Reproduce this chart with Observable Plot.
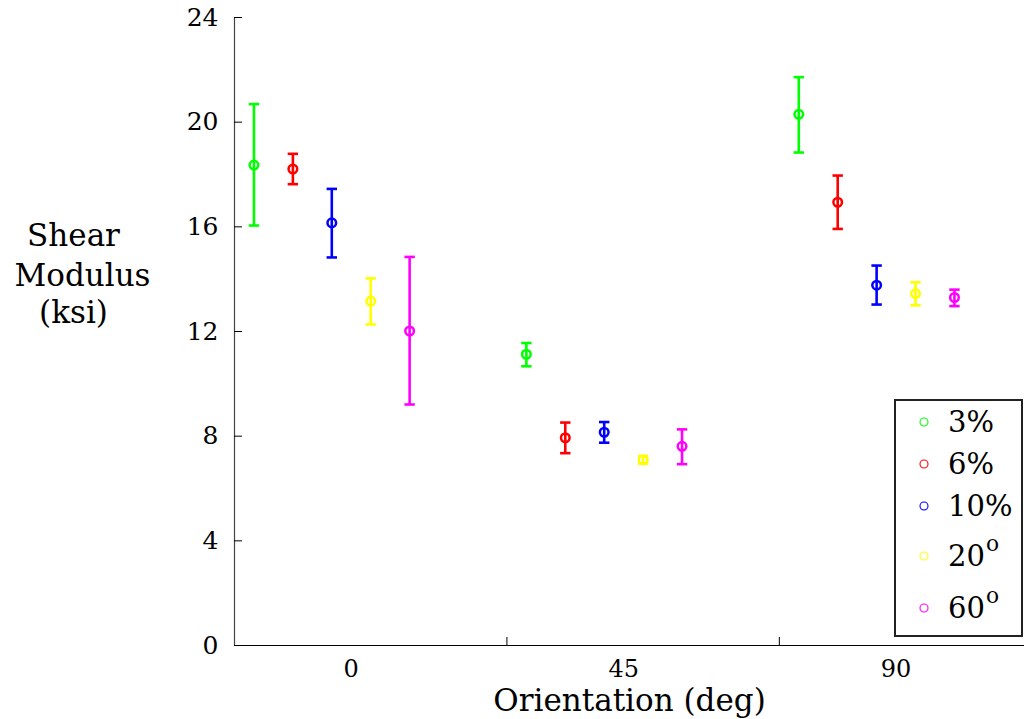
<!DOCTYPE html>
<html>
<head>
<meta charset="utf-8">
<script src="https://cdn.jsdelivr.net/npm/d3@7"></script>
<script src="https://cdn.jsdelivr.net/npm/@observablehq/plot@0.6"></script>
<style>
  html, body { margin: 0; padding: 0; background: #fff; }
  #wrap { position: relative; width: 1024px; height: 719px; overflow: hidden; }
  #legend {
    position: absolute; left: 894px; top: 399px; width: 125px; height: 234px;
    border: 2px solid #222; background: #fff;
    font-family: "DejaVu Serif", serif; font-size: 29px; color: #000;
  }
  #legend .row { display: flex; align-items: center; padding-left: 23px; }
  #legend .row svg { flex: none; margin-right: 19px; }
  #legend sup { font-size: 0.75em; vertical-align: 15px; line-height: 0; margin-left: 1px; }
</style>
</head>
<body>
<div id="wrap"><div id="chart"></div><div id="legend"></div></div>
<script>
// ---- data ----
const orientations = ["0", "45", "90"];
const series = ["3%", "6%", "10%", "20o", "60o"];
const seriesHtml = ["3%", "6%", "10%", "20<sup>o</sup>", "60<sup>o</sup>"];
const colors = ["#00ff00", "#ff0000", "#0000ff", "#ffff00", "#ff00ff"];
// mean shear modulus (ksi) per series, for orientations 0, 45, 90
const mean3  = [18.36, 11.13, 20.30];
const mean6  = [18.21,  7.94, 16.94];
const mean10 = [16.15,  8.15, 13.77];
const mean20 = [13.16,  7.10, 13.45];
const mean60 = [12.02,  7.61, 13.30];
// error bar low / high
const low3  = [16.05, 10.67, 18.84];
const high3 = [20.69, 11.56, 21.72];
const low6  = [17.63,  7.35, 15.92];
const high6 = [18.79,  8.52, 17.96];
const low10  = [14.83,  7.75, 13.03];
const high10 = [17.45,  8.54, 14.52];
const low20  = [12.27,  6.95, 13.00];
const high20 = [14.03,  7.24, 13.88];
const low60  = [ 9.21,  6.93, 12.97];
const high60 = [14.85,  8.26, 13.60];
const yTicks = [0, 4, 8, 12, 16, 20, 24];

const means = [mean3, mean6, mean10, mean20, mean60];
const lows = [low3, low6, low10, low20, low60];
const highs = [high3, high6, high10, high20, high60];

// layout: each orientation group occupies 7 slots (5 series + 2 gaps)
const slotsPerGroup = 7;
const rows = [];
series.forEach((s, si) => orientations.forEach((o, gi) => rows.push({
  series: s, color: colors[si], orientation: o,
  slot: gi * slotsPerGroup + si + 1,
  mean: means[si][gi], lo: lows[si][gi], hi: highs[si][gi]
})));
const labelPos = orientations.map((o, gi) => gi * slotsPerGroup + 3.5);
const labelMap = new Map(labelPos.map((p, i) => [p, orientations[i]]));
const boundaryPos = orientations.slice(1).map((o, gi) => (gi + 1) * slotsPerGroup + 0.5);

const cap = { draw(ctx, size) { const r = Math.sqrt(size / Math.PI); ctx.moveTo(-r, 0); ctx.lineTo(r, 0); } };

const chart = Plot.plot({
  width: 1024, height: 719,
  marginLeft: 234, marginRight: 0, marginTop: 17, marginBottom: 74,
  style: { fontFamily: "DejaVu Serif", background: "white", color: "#000" },
  x: { domain: [0.5, 20.8] },
  y: { domain: [0, 24] },
  marks: [
    Plot.ruleX([0.5], { stroke: "#444", strokeWidth: 1.2 }),
    Plot.ruleY([0], { stroke: "#000", strokeWidth: 1.2 }),
    Plot.axisY({ ticks: yTicks, tickSize: 0, tickPadding: 16, fontSize: 25, label: null }),
    Plot.axisY({ ticks: yTicks, tickSize: 8, dx: 8, tickFormat: () => "", label: null }),
    Plot.axisX({ ticks: labelPos, tickSize: 0, tickPadding: 14, fontSize: 24, tickFormat: d => labelMap.get(d), label: null }),
    Plot.axisX({ ticks: boundaryPos, tickSize: 8, dy: -8, tickFormat: () => "", label: null }),
    Plot.ruleX(rows, { x: "slot", y1: "lo", y2: "hi", stroke: "color", strokeWidth: 2.6 }),
    Plot.dot(rows, { x: "slot", y: "lo", symbol: cap, r: 5.2, stroke: "color", strokeWidth: 2.6 }),
    Plot.dot(rows, { x: "slot", y: "hi", symbol: cap, r: 5.2, stroke: "color", strokeWidth: 2.6 }),
    Plot.dot(rows, { x: "slot", y: "mean", r: 4.3, stroke: "color", strokeWidth: 2.5, fill: "none" }),
    Plot.text(["Orientation (deg)"], { frameAnchor: "bottom", dy: 65, lineAnchor: "bottom", fontSize: 31, fill: "#000" }),
    Plot.text(["Shear"], { frameAnchor: "top-left", dx: -161, dy: 228, lineAnchor: "bottom", textAnchor: "middle", fontSize: 31, fill: "#000" }),
    Plot.text(["Modulus"], { frameAnchor: "top-left", dx: -152, dy: 268, lineAnchor: "bottom", textAnchor: "middle", fontSize: 31, fill: "#000" }),
    Plot.text(["(ksi)"], { frameAnchor: "top-left", dx: -161, dy: 305, lineAnchor: "bottom", textAnchor: "middle", fontSize: 31, fill: "#000" })
  ]
});
document.getElementById("chart").appendChild(chart);

// legend
const rowHeights = [42, 42, 42, 58, 46];
const legend = document.getElementById("legend");
series.forEach((s, i) => {
  const row = document.createElement("div");
  row.className = "row";
  row.style.height = rowHeights[i] + "px";
  row.innerHTML = `<svg width="10" height="10"><circle cx="5" cy="5" r="4" fill="none" stroke="${colors[i]}" stroke-width="1.1"/></svg><span>${seriesHtml[i]}</span>`;
  legend.appendChild(row);
});
</script>
</body>
</html>
